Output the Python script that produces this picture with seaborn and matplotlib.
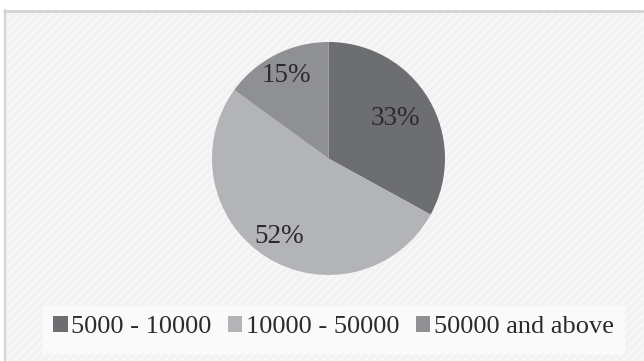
import matplotlib
matplotlib.use("Agg")
import matplotlib.pyplot as plt
from matplotlib.patches import Rectangle
import numpy as np
import seaborn as sns

# Income bands and their shares
categories = ["5000 - 10000", "10000 - 50000", "50000 and above"]
shares = [33, 52, 15]
label_radius = [0.67, 0.79, 0.80]
colors = ["#6d6e71", "#b3b4b7", "#8f9093"]

sns.set_theme(style="white")
plt.rcParams["font.family"] = ["Liberation Serif", "DejaVu Serif"]

W, H = 644, 361
fig = plt.figure(figsize=(W / 100, H / 100), dpi=100)
fig.patch.set_facecolor("white")

# Panel background with a thin grey frame
bg = Rectangle((4 / W, 0), 1 - 4 / W, 1 - 10 / H, transform=fig.transFigure,
               facecolor="#f2f2f3", edgecolor="none", zorder=0)
fig.add_artist(bg)
tex = Rectangle((4 / W, 0), 1 - 4 / W, 1 - 10 / H, transform=fig.transFigure,
                facecolor="none", edgecolor="#fafafa", hatch="////", lw=0, zorder=0)
fig.add_artist(tex)
fig.add_artist(plt.Line2D([4 / W, 1], [1 - 10.5 / H, 1 - 10.5 / H],
                          transform=fig.transFigure, color="#d4d4d4", lw=2))
fig.add_artist(plt.Line2D([4.5 / W, 4.5 / W], [0, 1 - 10 / H],
                          transform=fig.transFigure, color="#d4d4d4", lw=1.5))

cx, cy, r = 328.5, 158.5, 116.5
ax = fig.add_axes([(cx - r) / W, (H - cy - r) / H, 2 * r / W, 2 * r / H])
ax.set_facecolor("none")

wedges, _ = ax.pie(shares, colors=colors, startangle=90, counterclock=False,
                   radius=1.0, wedgeprops=dict(linewidth=0))
for w, val, rad in zip(wedges, shares, label_radius):
    mid = np.deg2rad((w.theta1 + w.theta2) / 2)
    ax.text(rad * np.cos(mid), rad * np.sin(mid), f"{val}%", ha="center",
            va="center", fontsize=19.5, color="#2b2b2b",
            fontfamily="Liberation Serif")
ax.set_xlim(-1, 1)
ax.set_ylim(-1, 1)
ax.set_aspect("equal")
ax.axis("off")

# Legend strip along the bottom
fig.add_artist(Rectangle((43 / W, (H - 354) / H), 582 / W, 48 / H,
                         transform=fig.transFigure, facecolor="#fafafa",
                         edgecolor="none", zorder=1))
handles = [Rectangle((0, 0), 1, 1, facecolor=c, edgecolor="none") for c in colors]
leg = fig.legend(handles, categories, loc="center", ncol=3,
                 bbox_to_anchor=(333.5 / W, (H - 327) / H), frameon=False,
                 prop=dict(family="Liberation Serif", size=19), handlelength=0.55,
                 handleheight=0.55, handletextpad=0.15, columnspacing=0.6)
for t in leg.get_texts():
    t.set_color("#2b2b2b")
leg.set_zorder(2)

fig.savefig("out.png", dpi=100, facecolor=fig.get_facecolor())
